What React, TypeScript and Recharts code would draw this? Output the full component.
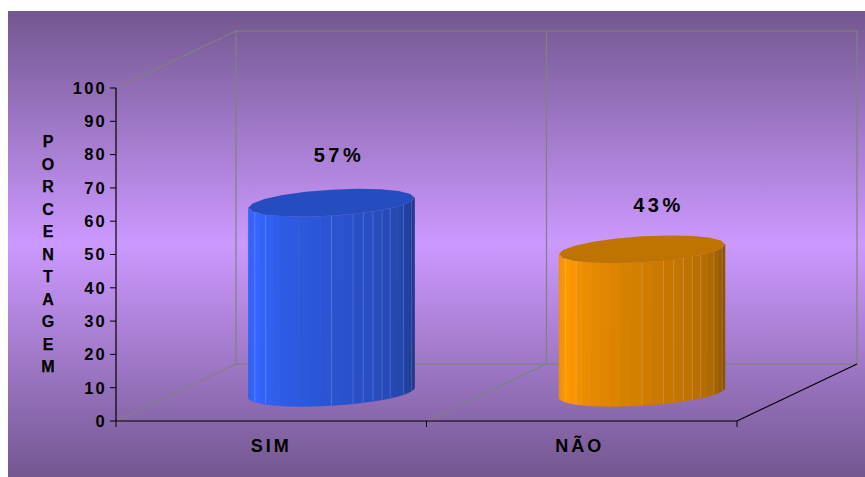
import React from 'react';
import { BarChart, Bar, XAxis, YAxis, Customized, LabelList } from 'recharts';

const categories = ['SIM', 'NÃO'];
const percentages = [57, 43];
const barColors = [[51, 102, 255], [255, 153, 0]];
const yTicks = [0, 10, 20, 30, 40, 50, 60, 70, 80, 90, 100];
const axisTitle = 'PORCENTAGEM';

const data = categories.map((name, i) => ({ name, value: percentages[i] }));

const W = 865, H = 477;
const L = 116, R = 737, T = 88, B = 421;
const DX = 120, DY = -57;
const FONT = '"Liberation Sans", Arial, sans-serif';
const GRAY = '#808080';

const FACETS = 24;
const LINE_AT = new Set([2, 4, 11, 13, 14, 15, 16, 17, 19, 21]);
const shade = (c: number[], f: number) => `rgb(${c.map((v) => Math.round(v * f)).join(',')})`;
const facetFactor = (i: number) => {
  const u = (i + 0.5) / FACETS;
  if (u < 0.15) return 0.93 + (u / 0.15) * 0.07;
  if (u < 0.3) return 1 - ((u - 0.15) / 0.15) * 0.1;
  if (u < 0.8) return 0.9 - ((u - 0.3) / 0.5) * 0.2;
  if (u < 0.92) return 0.7 - ((u - 0.8) / 0.12) * 0.12;
  return 0.54;
};

function Cylinder(props: any) {
  const { x, y, width, height, index } = props;
  const color = barColors[index];
  const cx = x + width / 2 + DX / 2 + 0.5;
  const top = y + DY / 2;
  const bottom = y + height + DY / 2;
  const rx = width / 2;
  const ry = 13;
  const shear = -5;
  const pt = (t: number, cy: number): [number, number] => [
    cx + rx * Math.cos(t),
    cy + ry * Math.sin(t) + shear * Math.cos(t),
  ];
  const facets = [];
  const lines = [];
  for (let i = 0; i < FACETS; i++) {
    const t0 = Math.PI - (i * Math.PI) / FACETS;
    const t1 = Math.PI - ((i + 1) * Math.PI) / FACETS;
    const a = pt(t0, top), b = pt(t1, top), c = pt(t1, bottom), d = pt(t0, bottom);
    const fill = shade(color, facetFactor(i));
    facets.push(
      <polygon key={i} points={[a, b, c, d].map((p) => p.join(',')).join(' ')} fill={fill} stroke={fill} strokeWidth={0.5} />,
    );
    if (LINE_AT.has(i)) {
      lines.push(<line key={i} x1={b[0]} y1={b[1]} x2={c[0]} y2={c[1]} stroke="#ffffff" strokeOpacity={0.22} strokeWidth={0.8} />);
    }
  }
  const ring = [];
  for (let i = 0; i < 20; i++) ring.push(pt((i * Math.PI) / 10, top).join(','));
  return (
    <g>
      {facets}
      {lines}
      <polygon points={ring.join(' ')} fill={shade(color, 0.75)} />
    </g>
  );
}

function Walls() {
  const bx0 = L + DX, bx1 = R + DX, by0 = T + DY, by1 = B + DY;
  const mid = (L + R) / 2;
  return (
    <g fill="none" stroke={GRAY} strokeWidth={1.2}>
      <rect x={bx0} y={by0} width={bx1 - bx0} height={by1 - by0} />
      <line x1={mid + DX} y1={by0} x2={mid + DX} y2={by1} />
      <line x1={L} y1={T} x2={bx0} y2={by0} />
      <line x1={L} y1={B} x2={bx0} y2={by1} />
      <line x1={mid} y1={B} x2={mid + DX} y2={by1} />
      <line x1={R} y1={B} x2={bx1} y2={by1} stroke="#000000" />
    </g>
  );
}

const XLABEL_DX = [0, -2];
function XTick(props: any) {
  const { x, payload, index } = props;
  const band = (R - L) / categories.length;
  return (
    <g>
      <line x1={x - band / 2} y1={B} x2={x - band / 2} y2={B + 6} stroke="#000" />
      <line x1={x + band / 2} y1={B} x2={x + band / 2} y2={B + 6} stroke="#000" />
      <text x={x + XLABEL_DX[index]} y={452} textAnchor="middle" fontFamily={FONT} fontWeight="bold" fontSize={18} letterSpacing={3} fill="#000">
        {payload.value}
      </text>
    </g>
  );
}

function YTitle() {
  return (
    <text fontFamily={FONT} fontWeight="bold" fontSize={16} fill="#000" stroke="#000" strokeWidth={0.25} textAnchor="middle">
      {axisTitle.split('').map((ch, i) => (
        <tspan key={i} x={48} y={147 + i * 22.5}>{ch}</tspan>
      ))}
    </text>
  );
}

const LABEL_DX = [68, 77];
const LABEL_DY = [-69, -66];
function PercentLabel(props: any) {
  const { x, y, width, value, index } = props;
  return (
    <text x={x + width / 2 + LABEL_DX[index]} y={y + LABEL_DY[index]} textAnchor="middle" fontFamily={FONT} fontWeight="bold" fontSize={20} letterSpacing={3.5} fill="#000">
      {`${value}%`}
    </text>
  );
}

export default function App() {
  return (
    <div style={{ position: 'absolute', left: 0, top: 0, width: W, height: H, background: '#fff', overflow: 'hidden' }}>
      <div
        style={{
          position: 'absolute', left: 8, top: 11, width: W - 8, height: H - 11,
          background: 'linear-gradient(to bottom, #735790 0%, #CC99FF 50%, #735790 100%)',
        }}
      />
      <div style={{ position: 'absolute', left: 0, top: 0 }}>
        <BarChart
          width={W}
          height={H}
          data={data}
          margin={{ left: L - 60, right: W - R, top: T, bottom: H - B - 40 }}
          barSize={166}
        >
          <Customized component={Walls} />
          <XAxis
            dataKey="name"
            height={40}
            axisLine={{ stroke: '#000', strokeWidth: 1.2 }}
            tickLine={false}
            tick={<XTick />}
            interval={0}
          />
          <YAxis
            width={60}
            domain={[0, 100]}
            ticks={yTicks}
            interval={0}
            axisLine={{ stroke: '#000', strokeWidth: 1.2 }}
            tickLine={{ stroke: '#000' }}
            tickSize={6}
            tickMargin={3}
            tick={{ fontFamily: FONT, fontWeight: 'bold', fontSize: 16.5, fill: '#000', letterSpacing: 2.2 }}
          />
          <Bar dataKey="value" shape={<Cylinder />} isAnimationActive={false}>
            <LabelList dataKey="value" content={<PercentLabel />} />
          </Bar>
          <Customized component={YTitle} />
        </BarChart>
      </div>
    </div>
  );
}
